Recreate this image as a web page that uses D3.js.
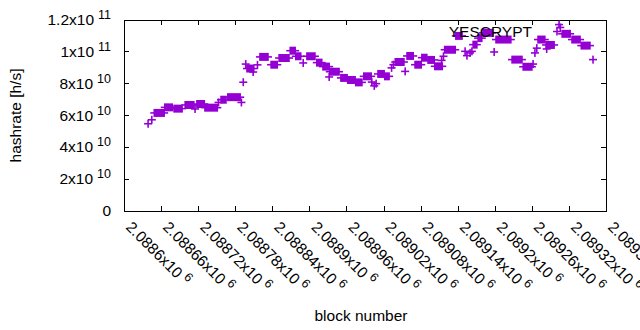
<!DOCTYPE html>
<html>
<head>
<meta charset="utf-8">
<script src="https://cdn.jsdelivr.net/npm/d3@7"></script>
<style>
  html, body { margin: 0; padding: 0; background: #fff; }
  svg { display: block; font-family: "Liberation Sans", Arial, sans-serif; }
</style>
</head>
<body>
<svg id="chart" width="640" height="330"></svg>
<script>
// axis ticks and their labels ("^" marks the exponent)
const xTicks = [2088600, 2088660, 2088720, 2088780, 2088840, 2088900, 2088960,
                2089020, 2089080, 2089140, 2089200, 2089260, 2089320, 2089380];
const xTickLabels = ["2.0886x10^6", "2.08866x10^6", "2.08872x10^6", "2.08878x10^6",
                     "2.08884x10^6", "2.0889x10^6", "2.08896x10^6", "2.08902x10^6",
                     "2.08908x10^6", "2.08914x10^6", "2.0892x10^6", "2.08926x10^6",
                     "2.08932x10^6", "2.08938x10^6"];
const yTicks = [0, 2e10, 4e10, 6e10, 8e10, 1e11, 1.2e11];
const yTickLabels = ["0", "2x10^10", "4x10^10", "6x10^10", "8x10^10", "1x10^11", "1.2x10^11"];

const seriesName = "YESCRYPT";

// hashrate stays flat over runs of blocks: first block, last block, hashrate [h/s]
const runFrom = [2088639, 2088645, 2088649, 2088666, 2088681, 2088699, 2088715, 2088718,
                 2088731, 2088753, 2088757, 2088768, 2088790, 2088793, 2088797, 2088799,
                 2088809, 2088816, 2088820, 2088838, 2088851, 2088869, 2088878, 2088890,
                 2088896, 2088912, 2088922, 2088932, 2088933, 2088951, 2088962, 2088975,
                 2088988, 2089001, 2089005, 2089008, 2089011, 2089022, 2089033, 2089036,
                 2089039, 2089055, 2089058, 2089071, 2089082, 2089092, 2089103, 2089114,
                 2089117, 2089119, 2089137, 2089152, 2089155, 2089160, 2089163, 2089165,
                 2089173, 2089181, 2089199, 2089202, 2089228, 2089246, 2089262, 2089265,
                 2089268, 2089270, 2089283, 2089284, 2089304, 2089306, 2089309, 2089325,
                 2089340, 2089359];
const runTo =   [2088639, 2088645, 2088665, 2088678, 2088694, 2088713, 2088715, 2088730,
                 2088751, 2088753, 2088765, 2088788, 2088790, 2088793, 2088797, 2088810,
                 2088809, 2088816, 2088833, 2088848, 2088867, 2088877, 2088886, 2088890,
                 2088909, 2088920, 2088932, 2088932, 2088948, 2088961, 2088974, 2088985,
                 2089000, 2089001, 2089005, 2089008, 2089021, 2089029, 2089033, 2089036,
                 2089053, 2089055, 2089068, 2089081, 2089090, 2089102, 2089115, 2089114,
                 2089117, 2089136, 2089147, 2089152, 2089155, 2089160, 2089163, 2089171,
                 2089179, 2089196, 2089199, 2089226, 2089244, 2089260, 2089262, 2089265,
                 2089268, 2089281, 2089296, 2089284, 2089304, 2089306, 2089322, 2089338,
                 2089354, 2089359];
const runRate = [5.45e10, 5.7e10, 6.13e10, 6.48e10, 6.4e10, 6.63e10, 6.38e10, 6.69e10,
                 6.46e10, 6.79e10, 6.96e10, 7.12e10, 6.79e10, 8.06e10, 9.2e10, 8.92e10,
                 8.7e10, 9.15e10, 9.65e10, 9.16e10, 9.58e10, 10.04e10, 9.69e10, 9.27e10,
                 9.69e10, 9.29e10, 9.04e10, 8.39e10, 8.72e10, 8.33e10, 8.2e10, 8.05e10,
                 8.43e10, 8.07e10, 7.83e10, 7.97e10, 8.58e10, 8.43e10, 8.96e10, 9.16e10,
                 9.33e10, 8.74e10, 9.71e10, 9.16e10, 9.6e10, 9.46e10, 9.06e10, 9.43e10,
                 9.69e10, 10.1e10, 10.97e10, 10.0e10, 9.73e10, 9.9e10, 10.0e10, 10.42e10,
                 10.83e10, 11.16e10, 9.96e10, 10.74e10, 9.48e10, 9.03e10, 9.2e10, 9.9e10,
                 10.2e10, 10.74e10, 10.4e10, 10.15e10, 11.68e10, 11.5e10, 11.1e10, 10.74e10,
                 10.36e10, 9.48e10];

function drawChart() {
    const width = 640;
    const height = 330;
    const plot = { left: 124, right: 606, top: 19.5, bottom: 210.5 };
    const color = "#9400d3";
    const fontSize = 15.5;
    const supSize = 12.5;

    const svg = d3.select("#chart")
        .attr("width", width)
        .attr("height", height);

    const x = d3.scaleLinear()
        .domain([xTicks[0], xTicks[xTicks.length - 1]])
        .range([plot.left, plot.right]);
    const y = d3.scaleLinear()
        .domain([0, 1.2e11])
        .range([plot.bottom, plot.top]);

    // writes "a^b" as text with a raised exponent
    function sciText(sel, label) {
        const parts = label.split("^");
        sel.append("tspan").text(parts[0]);
        if (parts[1]) {
            sel.append("tspan")
                .attr("dx", 4)
                .attr("dy", -6)
                .style("font-size", supSize + "px")
                .text(parts[1]);
        }
    }

    // frame with inward ticks on all four sides
    const axes = [
        [d3.axisBottom(x).tickValues(xTicks), `translate(0,${plot.bottom})`],
        [d3.axisTop(x).tickValues(xTicks), `translate(0,${plot.top})`],
        [d3.axisLeft(y).tickValues(yTicks), `translate(${plot.left},0)`],
        [d3.axisRight(y).tickValues(yTicks), `translate(${plot.right},0)`]
    ];
    axes.forEach(([axis, tr]) => {
        const g = svg.append("g")
            .attr("transform", tr)
            .call(axis.tickSizeInner(-5).tickSizeOuter(0).tickFormat(""));
        g.selectAll("path, line")
            .attr("stroke", "#000")
            .attr("stroke-width", 1)
            .attr("shape-rendering", "crispEdges");
    });

    // y tick labels
    svg.append("g")
        .selectAll("text")
        .data(yTicks)
        .enter()
        .append("text")
        .attr("x", plot.left - 13)
        .attr("y", d => y(d) + 5.5)
        .attr("text-anchor", "end")
        .style("font-size", fontSize + "px")
        .attr("fill", "#000")
        .each(function(d, i) { sciText(d3.select(this), yTickLabels[i]); });

    // x tick labels, turned down to the right
    svg.append("g")
        .selectAll("text")
        .data(xTicks)
        .enter()
        .append("text")
        .attr("transform", d => `translate(${x(d) + 1},228) rotate(45)`)
        .attr("text-anchor", "start")
        .style("font-size", fontSize + "px")
        .attr("fill", "#000")
        .each(function(d, i) { sciText(d3.select(this), xTickLabels[i]); });

    // axis titles
    svg.append("text")
        .attr("x", 361)
        .attr("y", 321)
        .attr("text-anchor", "middle")
        .style("font-size", fontSize + "px")
        .text("block number");
    svg.append("text")
        .attr("transform", "translate(21,115.5) rotate(-90)")
        .attr("text-anchor", "middle")
        .style("font-size", fontSize + "px")
        .text("hashrate [h/s]");

    // each run of "+" marks merges into a bar with arms on both ends
    const arm = 4;
    const runs = runFrom.map((f, i) => ({ from: f, to: runTo[i], rate: runRate[i] }));
    const marks = svg.append("g")
        .selectAll("g")
        .data(runs)
        .enter()
        .append("g");
    marks.append("rect")
        .attr("x", d => x(d.from) - 0.8)
        .attr("y", d => y(d.rate) - arm)
        .attr("width", d => x(d.to) - x(d.from) + 1.6)
        .attr("height", arm * 2)
        .attr("fill", color);
    marks.append("line")
        .attr("x1", d => x(d.from) - arm)
        .attr("x2", d => x(d.to) + arm)
        .attr("y1", d => y(d.rate))
        .attr("y2", d => y(d.rate))
        .attr("stroke", color)
        .attr("stroke-width", 1.6);

    // key
    const keyText = svg.append("text")
        .attr("x", 532)
        .attr("y", 37)
        .attr("text-anchor", "end")
        .style("font-size", fontSize + "px")
        .attr("fill", "#000")
        .text(seriesName);
    const keyX = 557, keyY = 31.5;
    svg.append("path")
        .attr("d", `M${keyX - arm},${keyY}H${keyX + arm}M${keyX},${keyY - arm}V${keyY + arm}`)
        .attr("stroke", color)
        .attr("stroke-width", 1.6)
        .attr("fill", "none");
}

window.onload = drawChart;
</script>
</body>
</html>
